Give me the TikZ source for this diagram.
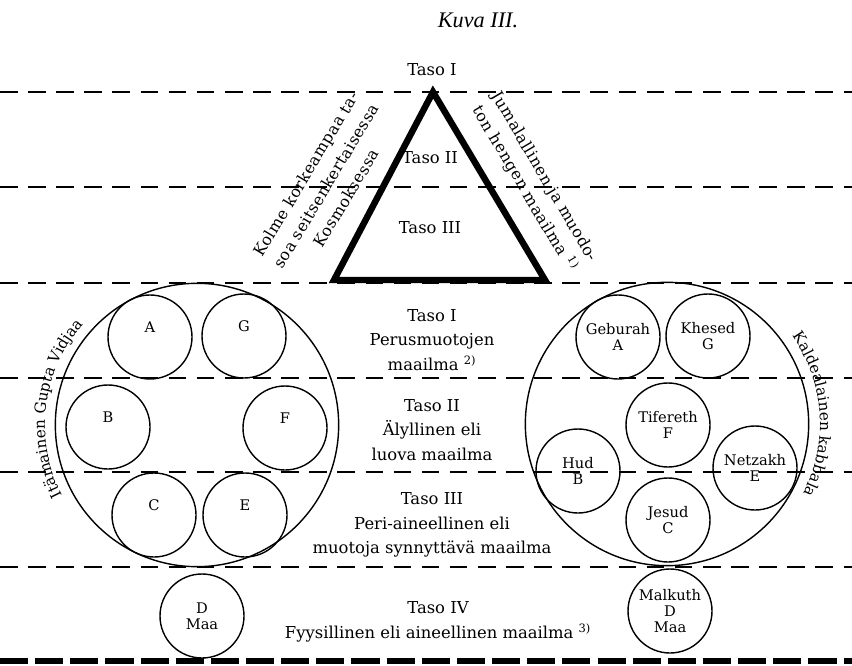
\documentclass[tikz,border=0pt]{standalone}
\usepackage{fontspec}
\setmainfont{DejaVu Serif}
\newfontfamily\titlefont{Liberation Serif}
\usetikzlibrary{positioning,decorations.text}
\tikzset{
  ring/.style={draw,circle,line width=1.2pt,minimum size=2.52cm,inner sep=0pt,
    align=center,font=\fontsize{12.5}{14}\selectfont},
  ringup/.style={ring,text depth=17pt},
  bigring/.style={draw,circle,line width=1.2pt,minimum size=8.5cm,inner sep=0pt},
  tasoline/.style={line width=1.2pt,dash pattern=on 15pt off 9pt},
  bottomline/.style={line width=5pt,dash pattern=on 24pt off 6pt},
  apexline/.style={line width=5.5pt,line join=miter},
  tasotext/.style={align=center,font=\fontsize{14}{21}\selectfont},
  sidetext/.style={align=center,font=\fontsize{13.5}{20}\selectfont\addfontfeatures{LetterSpace=3}}
}

\begin{document}
\begin{tikzpicture}[x=0.03cm,y=0.03cm]
  \useasboundingbox (0,0) rectangle (852,665);
  % level lines
  \foreach \y in {573,478,382,287,193,98}
    \draw[tasoline] (0,\y) -- (852,\y);
  \draw[bottomline] (0,4) -- (852,4);
  \node[font=\fontsize{19}{21}\titlefont\itshape] (kuva) at (478,645) {Kuva III.};

  % triangle
  \coordinate (apex) at (433,573);
  \coordinate (baseL) at (334,385);
  \coordinate (baseR) at (545,385);
  \draw[apexline] (apex) -- (baseL) -- (baseR) -- cycle;
  \node[tasotext] (tri1) at (432,595) {Taso I};
  \node[tasotext] (tri2) at (430,507) {Taso II};
  \node[tasotext] (tri3) at (430,437) {Taso III};
  \node[sidetext,rotate=59] (korkeat) at (326,479)
    {Kolme korkeampaa ta-\\soa seitsenkertaisessa\\Kosmoksessa};
  \node[sidetext,rotate=-59.5] (jumala) at (534,482)
    {Jumalallinen ja muodo-\\ton hengen maailma \textsuperscript{1)}};

  % middle texts
  \node[tasotext] (taso1) at (432,325) {Taso I\\Perusmuotojen\\maailma \textsuperscript{2)}};
  \node[tasotext] (taso2) at (432,235) {Taso II\\Älyllinen eli\\luova maailma};
  \node[tasotext] (taso3) at (432,140) {Taso III\\Peri-aineellinen eli\\muotoja synnyttävä maailma};
  \node[tasotext] (taso4) at (438,43) {Taso IV\\Fyysillinen eli aineellinen maailma \textsuperscript{3)}};

  % Gupta Vidjaa
  \node[bigring] (gupta) at (197,240) {};
  \node[ringup] (gA) at (150,328) {A};
  \node[ringup] (gG) at (244,329) {G};
  \node[ringup] (gB) at (108,238) {B};
  \node[ringup] (gF) at (285,237) {F};
  \node[ringup] (gC) at (154,150) {C};
  \node[ringup] (gE) at (245,150) {E};
  \node[ring] (gD) at (202,49) {D\\Maa};
  \path[decorate,decoration={text along path,text align=center,
    text={|\fontsize{13}{15}\selectfont|Itämainen Gupta Vidjaa}}]
    (gupta.center) ++(213:152) arc[start angle=213,end angle=133,radius=152];

  % kabbala
  \node[bigring] (kabbala) at (667,241) {};
  \node[ring] (geburah) at (618,328) {Geburah\\A};
  \node[ring] (khesed) at (708,329) {Khesed\\G};
  \node[ring] (tifereth) at (668,240) {Tifereth\\F};
  \node[ring] (hud) at (578,194) {Hud\\B};
  \node[ring] (netzakh) at (755,197) {Netzakh\\E};
  \node[ring] (jesud) at (668,145) {Jesud\\C};
  \node[ring] (malkuth) at (670,54) {Malkuth\\D\\Maa};
  \path[decorate,decoration={text along path,text align=center,
    text={|\fontsize{13}{15}\selectfont|Kaldealainen kabbala}}]
    (kabbala.center) ++(41:153) arc[start angle=41,end angle=-33,radius=153];
\end{tikzpicture}
\end{document}
